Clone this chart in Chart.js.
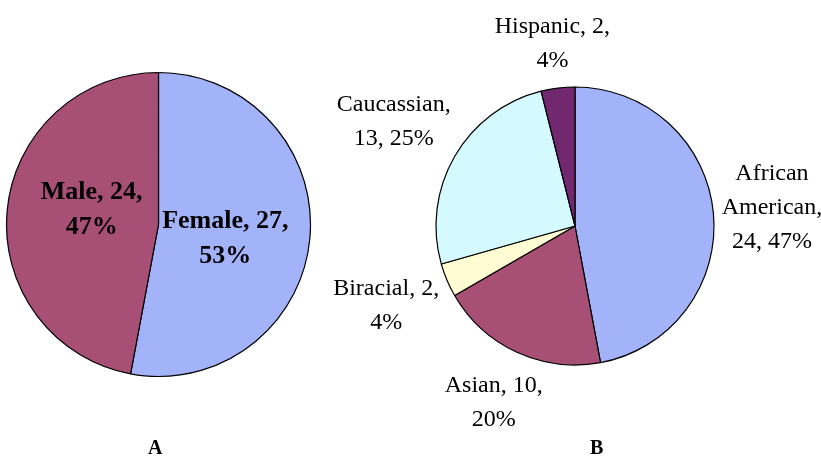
<!DOCTYPE html>
<html>
<head>
<meta charset="utf-8">
<script src="https://cdn.jsdelivr.net/npm/chart.js@4"></script>
<style>
  body { margin: 0; background: #fff; width: 821px; height: 461px; position: relative; overflow: hidden;
         font-family: "Liberation Serif", "Times New Roman", serif; }
  .box { position: absolute; top: 0; height: 461px; }
  #boxA { left: 0; width: 320px; }
  #boxB { left: 320px; width: 501px; }
  .tag { position: absolute; top: 436px; font-weight: bold; font-size: 20px; line-height: 23px; }
</style>
</head>
<body>
<div class="box" id="boxA"><canvas id="pieA"></canvas></div>
<div class="box" id="boxB"><canvas id="pieB"></canvas></div>
<div class="tag" style="left:148px">A</div>
<div class="tag" style="left:590px">B</div>
<script>
// ========================== DATA ==============================
const genderLabels = ['Female', 'Male'];
const genderValues = [27, 24];

const raceLabels = ['African American', 'Asian', 'Biracial', 'Caucassian', 'Hispanic'];
const raceValues = [24, 10, 2, 13, 2];

const genderColors = ['#A3B3F9', '#A84F75'];
const raceColors = ['#A3B3F9', '#A84F75', '#FFFCD4', '#D4FAFF', '#72286F'];

// ========================== LABELS ============================
function wrapWords(ctx, text, maxWidth) {
  const words = text.split(' ');
  const lines = [];
  let line = '';
  words.forEach(w => {
    const test = line ? line + ' ' + w : w;
    if (line && ctx.measureText(test).width > maxWidth) {
      lines.push(line);
      line = w;
    } else {
      line = test;
    }
  });
  if (line) lines.push(line);
  return lines;
}

function sliceLabels(opts) {
  return {
    id: 'sliceLabels',
    afterDatasetsDraw(chart) {
      const ctx = chart.ctx;
      const meta = chart.getDatasetMeta(0);
      const values = chart.data.datasets[0].data;
      const total = values.reduce((a, b) => a + b, 0);
      ctx.save();
      ctx.font = opts.font;
      ctx.fillStyle = '#000';
      ctx.textAlign = 'center';
      ctx.textBaseline = 'middle';
      meta.data.forEach((arc, i) => {
        const p = arc.getProps(['x', 'y', 'startAngle', 'endAngle', 'outerRadius'], true);
        const mid = (p.startAngle + p.endAngle) / 2 + (opts.shift || 0);
        const ux = Math.cos(mid), uy = Math.sin(mid);
        const pct = Math.round(values[i] / total * 100);
        const lines = wrapWords(ctx, `${chart.data.labels[i]}, ${values[i]}, ${pct}%`, opts.maxWidth);
        const w = Math.max(...lines.map(l => ctx.measureText(l).width));
        const h = lines.length * opts.lineHeight;
        let d;
        if (opts.inside) d = p.outerRadius * opts.inside;
        else d = p.outerRadius + opts.gap + Math.abs(ux) * w / 2 + Math.abs(uy) * h / 2;
        const cx = p.x + ux * d, cy = p.y + uy * d;
        lines.forEach((l, k) => {
          ctx.fillText(l, cx, cy + (k - (lines.length - 1) / 2) * opts.lineHeight);
        });
      });
      ctx.restore();
    }
  };
}

function makePie(id, labels, values, colors, radius, padding, labelOpts) {
  new Chart(document.getElementById(id), {
    type: 'pie',
    data: {
      labels,
      datasets: [{
        data: values,
        backgroundColor: colors,
        borderColor: '#000',
        borderWidth: 1.2,
        hoverOffset: 0,
        radius
      }]
    },
    options: {
      responsive: true,
      maintainAspectRatio: false,
      animation: false,
      layout: { padding },
      plugins: { legend: { display: false }, tooltip: { enabled: false } }
    },
    plugins: [sliceLabels(labelOpts)]
  });
}

// ========================== RUN =============================
makePie('pieA', genderLabels, genderValues, genderColors, 152,
  { left: 6.5, right: 9.5, top: 72.5, bottom: 84.5 },
  { font: 'bold 26px "Liberation Serif"', maxWidth: 132, lineHeight: 35, inside: 0.45, shift: 0.12 });

makePie('pieB', raceLabels, raceValues, raceColors, 139,
  { left: 116, right: 107, top: 87, bottom: 96 },
  { font: '24px "Liberation Serif"', maxWidth: 125, lineHeight: 34, gap: 4 });
</script>
</body>
</html>
